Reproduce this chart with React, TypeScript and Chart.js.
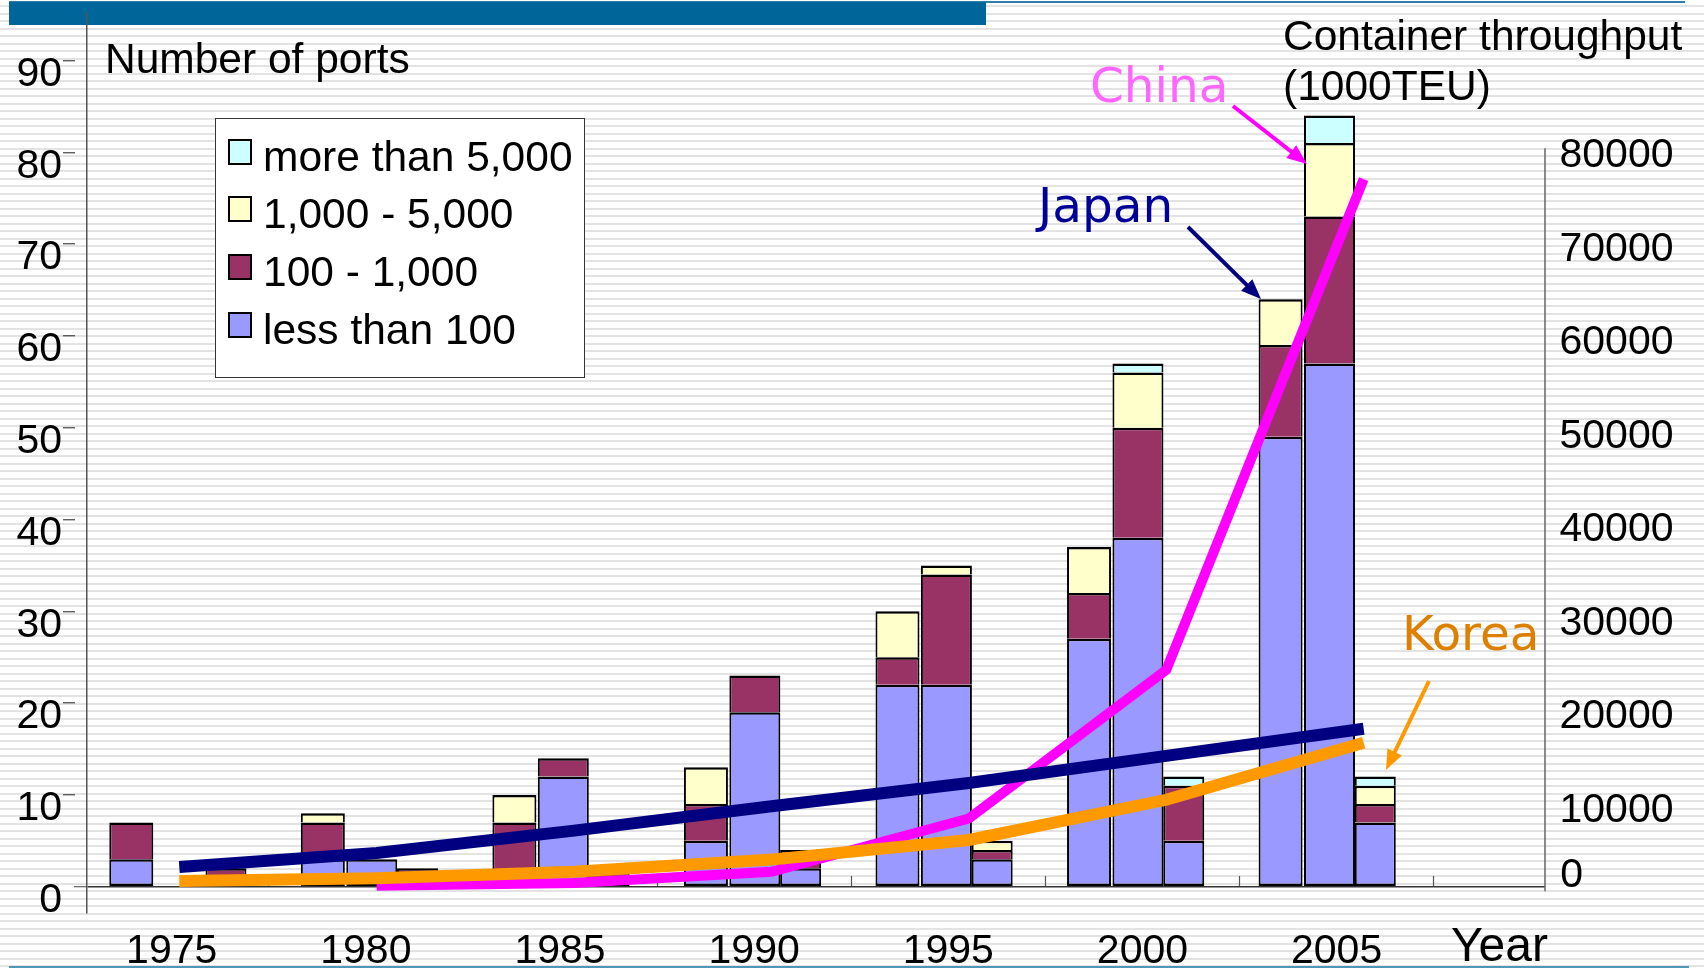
import React, { useEffect, useRef } from "react";
import { Chart, registerables } from "chart.js";

Chart.register(...registerables);

// ---------- data ----------
const years = [1975, 1980, 1985, 1990, 1995, 2000, 2005];
const yearLabels = [1975, 1980, 1985, 1990, 1995, 2000, 2005];

const classLabels = ["less than 100", "100 - 1,000", "1,000 - 5,000", "more than 5,000"];
const classColors = ["#9999FF", "#993366", "#FFFFCC", "#CCFFFF"];

// number of ports by class of container throughput (1000 TEU)
const japanLess100 = [3, 3, 0, 5, 22, 27, 49];
const japan100to1000 = [4, 4, 7, 4, 3, 5, 10];
const japan1000to5000 = [0, 1, 3, 4, 5, 5, 5];
const japanOver5000 = [0, 0, 0, 0, 0, 0, 0];

const chinaLess100 = [0, 3, 12, 19, 22, 38, 57];
const china100to1000 = [0, 0, 2, 4, 12, 12, 16];
const china1000to5000 = [0, 0, 0, 0, 1, 6, 8];
const chinaOver5000 = [0, 0, 0, 0, 0, 1, 3];

const koreaLess100 = [1, 1, 0, 2, 3, 5, 7];
const korea100to1000 = [1, 1, 2, 2, 1, 6, 2];
const korea1000to5000 = [0, 0, 0, 0, 1, 0, 2];
const koreaOver5000 = [0, 0, 0, 0, 0, 1, 1];

// container throughput (1000 TEU)
const japanTEU = [2100, 3600, 6000, 8600, 11100, 14000, 16900];
const chinaTEU = [null, 100, 400, 1600, 7300, 23200, 75700];
const koreaTEU = [600, 900, 1600, 2900, 5000, 9300, 15400];

const leftTicks = [0, 10, 20, 30, 40, 50, 60, 70, 80, 90];
const rightTicks = [10000, 20000, 30000, 40000, 50000, 60000, 70000, 80000];
const rightZeroTick = [0];

// ---------- styling ----------
const SANS = "'Liberation Sans', Arial, sans-serif";
const DEJAVU = "'DejaVu Sans', Verdana, sans-serif";
const TICK_FONT = { family: SANS, size: 41 };
const rightAxisLineTop = 79000;
const rightAxisLineBottom = -500;

const countries = [
  { name: "Japan", axis: "xJ", thickness: 44, series: [japanLess100, japan100to1000, japan1000to5000, japanOver5000] },
  { name: "China", axis: "xC", thickness: 51, series: [chinaLess100, china100to1000, china1000to5000, chinaOver5000] },
  { name: "Korea", axis: "xK", thickness: 41, series: [koreaLess100, korea100to1000, korea1000to5000, koreaOver5000] },
];

function bottomClass(series: number[][], i: number) {
  for (let k = 0; k < series.length; k++) if (series[k][i] > 0) return k;
  return -1;
}

const barSets: any[] = [];
countries.forEach((c) => {
  c.series.forEach((arr, k) => {
    barSets.push({
      type: "bar",
      label: `${c.name} ${classLabels[k]}`,
      stack: c.name,
      xAxisID: c.axis,
      yAxisID: "y",
      grouped: false,
      data: years.map((yr, i) => ({ x: yr, y: arr[i] > 0 ? arr[i] : null })),
      backgroundColor: classColors[k],
      borderColor: "#000000",
      borderWidth: { top: 2.5, bottom: 2.5, left: 2, right: 2 },
      borderSkipped: (ctx: any) => (bottomClass(c.series, ctx.dataIndex) === k ? false : "start"),
      inflateAmount: 0,
      barThickness: c.thickness,
      order: 3,
    });
  });
});

const toPoints = (vals: (number | null)[]) =>
  years.map((yr, i) => ({ x: yr, y: vals[i] })).filter((p) => p.y !== null);

const lineSets: any[] = [
  { type: "line", label: "Korea", data: toPoints(koreaTEU), borderColor: "#FF9900", borderWidth: 12, order: 0 },
  { type: "line", label: "Japan", data: toPoints(japanTEU), borderColor: "#000080", borderWidth: 12, order: 1 },
  { type: "line", label: "China", data: toPoints(chinaTEU), borderColor: "#FF00FF", borderWidth: 10, order: 2 },
].map((d) => ({
  ...d,
  xAxisID: "xline",
  yAxisID: "y2",
  pointRadius: 0,
  pointHoverRadius: 0,
  fill: false,
  tension: 0,
  borderCapStyle: "butt",
  borderJoinStyle: "miter",
}));

const rightAxisLine = {
  id: "rightAxisLine",
  afterDraw(chart: any) {
    const s = chart.scales.y2;
    const ctx = chart.ctx;
    ctx.save();
    ctx.strokeStyle = "#666666";
    ctx.lineWidth = 1.5;
    ctx.beginPath();
    ctx.moveTo(s.left, s.getPixelForValue(rightAxisLineTop));
    ctx.lineTo(s.left, s.getPixelForValue(rightAxisLineBottom));
    ctx.stroke();
    ctx.restore();
  },
};

const setTicks = (vals: number[]) => (s: any) => {
  s.ticks = vals.map((v) => ({ value: v }));
};

const noVerticalPadding = (width: number) => (s: any) => {
  s.width = width;
  s.paddingTop = 0;
  s.paddingBottom = 0;
};

const hiddenX = (min: number, max: number) => ({
  type: "linear",
  display: false,
  offset: false,
  min,
  max,
});

function Arrow({ x1, y1, x2, y2, color, width }: any) {
  const dx = x2 - x1;
  const dy = y2 - y1;
  const len = Math.hypot(dx, dy);
  const ux = dx / len;
  const uy = dy / len;
  const hl = 20;
  const hw = 8;
  const bx = x2 - ux * hl;
  const by = y2 - uy * hl;
  const pts = `${x2},${y2} ${bx - uy * hw},${by + ux * hw} ${bx + uy * hw},${by - ux * hw}`;
  return (
    <g>
      <line x1={x1} y1={y1} x2={bx + ux * 2} y2={by + uy * 2} stroke={color} strokeWidth={width} />
      <polygon points={pts} fill={color} />
    </g>
  );
}

const txt = (left: number, baseline: number, size: number, family: string, color: string, text: string) => (
  <div
    style={{
      position: "absolute",
      left,
      top: baseline - 0.846 * size,
      fontSize: size,
      lineHeight: `${size}px`,
      fontFamily: family,
      color,
      whiteSpace: "nowrap",
    }}
  >
    {text}
  </div>
);

const legendRows = [3, 2, 1, 0];

export default function App() {
  const canvasRef = useRef<HTMLCanvasElement>(null);

  useEffect(() => {
    const canvas = canvasRef.current;
    if (!canvas) return;
    const chart = new Chart(canvas, {
      type: "bar",
      data: { datasets: [...lineSets, ...barSets] },
      options: {
        responsive: false,
        animation: false,
        events: [],
        layout: { padding: { top: 13, left: 0, right: 0, bottom: 0 } },
        plugins: {
          legend: { display: false },
          tooltip: { enabled: false },
          title: { display: false },
        },
        scales: {
          xJ: hiddenX(1973.844, 2011.902),
          xC: hiddenX(1972.567, 2010.625),
          xK: hiddenX(1971.372, 2009.43),
          xline: hiddenX(1972.662, 2009.593),
          xl: {
            type: "linear",
            position: "bottom",
            offset: false,
            min: 1972.819,
            max: 2010.367,
            afterBuildTicks: setTicks(yearLabels),
            afterFit: (s: any) => {
              s.height = 56;
              s.paddingLeft = 0;
              s.paddingRight = 0;
            },
            border: { display: false },
            grid: {
              display: true,
              drawOnChartArea: false,
              drawTicks: true,
              offset: true,
              tickLength: -37,
              tickColor: "#555555",
              tickWidth: 1.2,
              tickBorderDash: [0, 26, 11, 100],
            },
            ticks: {
              font: TICK_FONT,
              color: "#000000",
              padding: 51,
              maxRotation: 0,
              autoSkip: false,
              callback: (v: any) => String(v),
            },
          },
          y: {
            type: "linear",
            position: "left",
            stacked: true,
            min: -2.865,
            max: 95.17,
            afterBuildTicks: setTicks(leftTicks),
            afterFit: noVerticalPadding(87),
            border: { display: true, color: "#555555", width: 1.5 },
            grid: {
              color: (c: any) => (c.tick && c.tick.value === 0 ? "#333333" : "rgba(0,0,0,0)"),
              lineWidth: 1.5,
              drawOnChartArea: true,
              drawTicks: true,
              tickLength: 24,
              tickColor: "#444444",
              tickWidth: 1.2,
              tickBorderDash: (c: any) => (c.tick && c.tick.value === 0 ? [0, 11, 13] : [12, 12]),
            },
            ticks: {
              font: TICK_FONT,
              color: "#000000",
              padding: 1,
              labelOffset: 14,
              autoSkip: false,
              callback: (v: any) => String(v),
            },
          },
          y2: {
            type: "linear",
            position: "right",
            weight: 1,
            min: -2814,
            max: 93483,
            afterBuildTicks: setTicks(rightTicks),
            afterFit: noVerticalPadding(159),
            border: { display: false },
            grid: { display: false, drawTicks: false },
            ticks: {
              font: TICK_FONT,
              color: "#000000",
              padding: 14.5,
              labelOffset: 17,
              autoSkip: false,
              callback: (v: any) => String(v),
            },
          },
          y3: {
            type: "linear",
            position: "right",
            weight: 0,
            min: -2814,
            max: 93483,
            afterBuildTicks: setTicks(rightZeroTick),
            afterFit: noVerticalPadding(0),
            border: { display: false },
            grid: { display: false, drawTicks: false },
            ticks: {
              font: TICK_FONT,
              color: "#000000",
              mirror: true,
              padding: 38,
              labelOffset: -11,
              autoSkip: false,
              callback: (v: any) => String(v),
            },
          },
        },
      } as any,
      plugins: [rightAxisLine],
    } as any);
    return () => chart.destroy();
  }, []);

  return (
    <div
      style={{
        position: "absolute",
        left: 0,
        top: 0,
        width: 1704,
        height: 969,
        overflow: "hidden",
        background:
          "repeating-linear-gradient(to bottom, #ffffff 0px, #ffffff 5.5px, #e3e3e3 5.5px, #e3e3e3 7.5px)",
      }}
    >
      {/* slide decorations */}
      <div style={{ position: "absolute", left: 9, top: 1, width: 1676, height: 2, background: "#2f7fa8" }} />
      <div style={{ position: "absolute", left: 9, top: 2, width: 977, height: 23, background: "#006699" }} />
      <div style={{ position: "absolute", left: 9, top: 966, width: 1680, height: 2, background: "#4f97b8" }} />

      <canvas
        ref={canvasRef}
        width={1704}
        height={969}
        style={{ position: "absolute", left: 0, top: 0, display: "block" }}
      />

      {/* axis titles */}
      {txt(105, 74, 42.5, SANS, "#000", "Number of ports")}
      {txt(1283, 51, 42.5, SANS, "#000", "Container throughput")}
      {txt(1283, 101, 42.5, SANS, "#000", "(1000TEU)")}
      {txt(1451, 962, 48, SANS, "#000", "Year")}

      {/* series annotations */}
      {txt(1090, 102, 48.5, DEJAVU, "#FF66FF", "China")}
      {txt(1038, 222, 48.5, DEJAVU, "#000099", "Japan")}
      {txt(1402, 650, 48.5, DEJAVU, "#DD8000", "Korea")}

      <svg
        width={1704}
        height={969}
        style={{ position: "absolute", left: 0, top: 0, pointerEvents: "none" }}
      >
        <Arrow x1={1233} y1={106} x2={1307} y2={164} color="#FF00FF" width={4} />
        <Arrow x1={1188} y1={227} x2={1261} y2={299} color="#000080" width={4} />
        <Arrow x1={1429} y1={681} x2={1386} y2={770} color="#FF9900" width={4} />
      </svg>

      {/* legend */}
      <div
        style={{
          position: "absolute",
          left: 215,
          top: 118,
          width: 368,
          height: 258,
          background: "#ffffff",
          border: "1.5px solid #333",
        }}
      />
      {legendRows.map((k, r) => {
        const baseline = 171.7 + r * 57.6;
        return (
          <React.Fragment key={k}>
            <div
              style={{
                position: "absolute",
                left: 228,
                top: baseline - 33,
                width: 20,
                height: 22,
                background: classColors[k],
                border: "2px solid #000",
              }}
            />
            {txt(263, baseline, 42.5, SANS, "#000", classLabels[k])}
          </React.Fragment>
        );
      })}
    </div>
  );
}
